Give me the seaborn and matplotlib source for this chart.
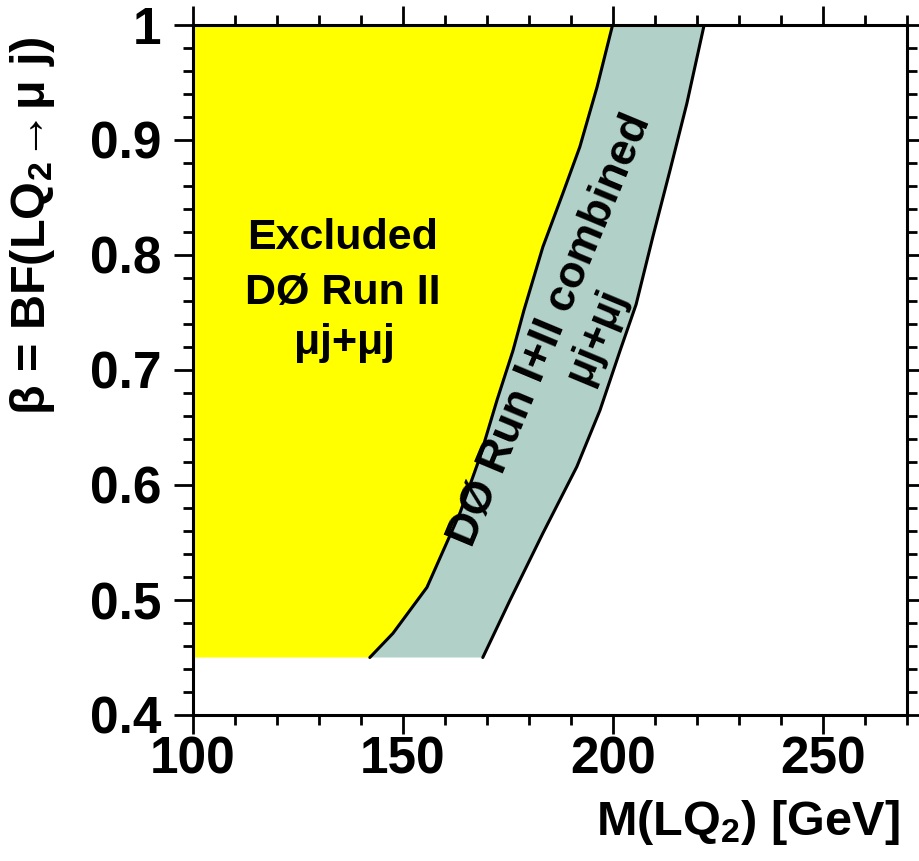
import numpy as np
import pandas as pd
import matplotlib
matplotlib.use("Agg")
import matplotlib.pyplot as plt
from matplotlib.ticker import MultipleLocator, FuncFormatter
import seaborn as sns

# Run II limit contour: branching fraction beta vs. leptoquark mass
beta_run2 = [0.45, 0.471, 0.511, 0.576, 0.624, 0.674, 0.717, 0.752, 0.807,
             0.854, 0.894, 0.946, 1.0]
mass_run2 = [142.1, 147.6, 155.7, 163.6, 168.3, 172.4, 176.2, 178.8, 183.3,
             188.1, 192.1, 196.2, 199.9]

# Run I+II combined limit contour
beta_comb = [0.45, 0.50, 0.558, 0.616, 0.665, 0.717, 0.757, 0.816, 0.874,
             0.932, 1.0]
mass_comb = [169.0, 175.5, 183.3, 191.4, 196.9, 201.7, 205.5, 209.5, 213.6,
             217.6, 221.7]

x_min, x_max = 100, 270
y_min, y_max = 0.4, 1.0

sns.set_style("ticks")
plt.rcParams["font.family"] = ["Liberation Sans", "DejaVu Sans"]
plt.rcParams["font.weight"] = "bold"
for key in ["text.color", "axes.labelcolor", "xtick.color", "ytick.color",
            "axes.edgecolor"]:
    plt.rcParams[key] = "black"
plt.rcParams["mathtext.fontset"] = "custom"
plt.rcParams["mathtext.rm"] = "Liberation Sans:bold"
plt.rcParams["mathtext.bf"] = "Liberation Sans:bold"
plt.rcParams["mathtext.it"] = "Liberation Sans"
plt.rcParams["mathtext.default"] = "rm"

run2 = pd.DataFrame({"beta": beta_run2, "mass": mass_run2})
comb = pd.DataFrame({"beta": beta_comb, "mass": mass_comb})

fig = plt.figure(figsize=(9.19, 8.61), dpi=100)
ax = fig.add_axes([193 / 919, 1 - 715 / 861, 714 / 919, 690 / 861])

# Excluded regions: Run II (yellow) and the extension from the combination (grey)
yel_x = np.r_[x_min, run2["mass"], x_min]
yel_y = np.r_[run2["beta"].iloc[0], run2["beta"], run2["beta"].iloc[-1]]
ax.fill(yel_x, yel_y, color="#ffff00", lw=0, zorder=1)
grey_x = np.r_[run2["mass"], comb["mass"][::-1]]
grey_y = np.r_[run2["beta"], comb["beta"][::-1]]
ax.fill(grey_x, grey_y, color="#b0d0c8", lw=0, zorder=1)

# Limit contours
sns.lineplot(data=run2, x="mass", y="beta", sort=False, color="black", lw=2.2,
             ax=ax, zorder=3, estimator=None)
sns.lineplot(data=comb, x="mass", y="beta", sort=False, color="black", lw=2.2,
             ax=ax, zorder=3, estimator=None)

ax.set_xlim(x_min, x_max)
ax.set_ylim(y_min, y_max)

ax.xaxis.set_major_locator(MultipleLocator(50))
ax.xaxis.set_minor_locator(MultipleLocator(10))
ax.yaxis.set_major_locator(MultipleLocator(0.1))
ax.yaxis.set_minor_locator(MultipleLocator(0.02))
ax.yaxis.set_major_formatter(FuncFormatter(lambda v, p: f"{v:g}"))
ax.xaxis.set_major_formatter(FuncFormatter(lambda v, p: f"{v:g}"))

for s in ax.spines.values():
    s.set_linewidth(2.2)
    s.set_visible(True)
    s.set_zorder(5)

ax.tick_params(which="both", direction="out", top=True, right=True,
               width=2.0, colors="black", labelsize=37)
ax.tick_params(which="major", length=14)
ax.tick_params(which="minor", length=7)
ax.tick_params(axis="y", which="major", pad=9)
ax.tick_params(axis="x", which="major", pad=1)
for lab in ax.get_xticklabels() + ax.get_yticklabels():
    lab.set_fontweight("bold")

ax.set_xlabel(r"M(LQ$_2$) [GeV]", fontsize=35, fontweight="bold")
ax.xaxis.set_label_coords(0.99, -0.174)
ax.xaxis.label.set_ha("right")
ax.xaxis.label.set_va("baseline")

ax.set_ylabel(r"$\mathit{\beta}$ = BF(LQ$_2$$\!\mathit{\rightarrow}\!$$\mathit{\mu}$ j)",
              fontsize=35, fontweight="bold")
ax.yaxis.set_label_coords(-0.225, 0.709)
ax.yaxis.label.set_ha("center")
ax.yaxis.label.set_va("center")

# Labels inside the excluded regions
tx = (343 - 193) / 714
for txt, py in [("Excluded", 238), ("DØ Run II", 293),
                (r"$\mathit{\mu}$j+$\mathit{\mu}$j", 343)]:
    ax.text(tx, (715 - py) / 690, txt, transform=ax.transAxes, ha="center",
            va="center", fontsize=31, fontweight="bold", zorder=4)

ax.text((551 - 193) / 714, (715 - 330) / 690, "DØ Run I+II combined",
        transform=ax.transAxes, ha="center", va="center", rotation=67.4,
        rotation_mode="anchor", fontsize=32, fontweight="bold", zorder=4)
ax.text((597 - 193) / 714, (715 - 340) / 690, r"$\mathit{\mu}$j+$\mathit{\mu}$j",
        transform=ax.transAxes, ha="center", va="center", rotation=67.4,
        rotation_mode="anchor", fontsize=30, fontweight="bold", zorder=4)

fig.savefig("out.png", dpi=100)
